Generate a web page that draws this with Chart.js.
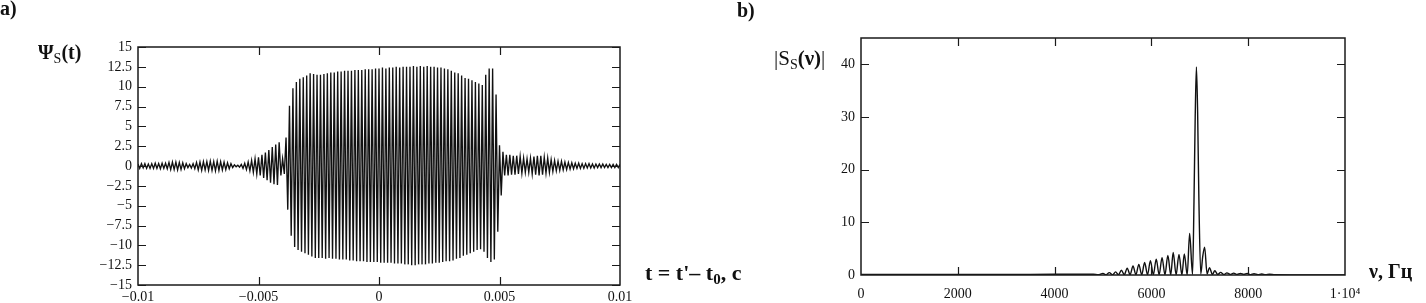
<!DOCTYPE html>
<html>
<head>
<meta charset="utf-8">
<script src="https://cdn.jsdelivr.net/npm/chart.js@4/dist/chart.umd.min.js"></script>
<style>
  html, body { margin: 0; padding: 0; background: #fff; }
  #wrap { position: relative; width: 1426px; height: 303px; overflow: hidden; }
  canvas { position: absolute; top: 0; }
  .lbl {
    position: absolute;
    font-family: "Liberation Serif", "DejaVu Serif", serif;
    font-size: 20px;
    line-height: 1;
    color: #111;
    white-space: nowrap;
  }
  .lbl b { font-weight: bold; }
  .lbl sub { font-size: 14px; vertical-align: -4px; font-weight: normal; }
</style>
</head>
<body>
<div id="wrap">
  <canvas id="signalChart" width="660" height="303" style="left:0"></canvas>
  <canvas id="spectrumChart" width="746" height="303" style="left:680px"></canvas>

  <div class="lbl" style="left:0;top:-2px"><b>a)</b></div>
  <div class="lbl" style="left:38px;top:42px"><b>Ψ</b><sub>S</sub><b>(t)</b></div>
  <div class="lbl" style="left:645px;top:262px;font-size:22px"><b>t = t'– t</b><sub style="font-weight:bold;font-size:15px">0</sub><b>, c</b></div>

  <div class="lbl" style="left:737px;top:0"><b>b)</b></div>
  <div class="lbl" style="left:774px;top:48px;font-size:21px">|S<sub>S</sub><b>(ν)</b>|</div>
  <div class="lbl" style="left:1369px;top:261px;font-size:20px"><b>ν, Гц</b></div>
</div>

<script>
// =========================================================
// DATA
// =========================================================

// a) signal Ψs(t): successive peak / trough values, evenly spaced in t
const T_START = -0.01;
const T_END = 0.01;

// quiet lead-in and the small pre-burst (t ≈ -0.010 … -0.0039)
const psiLead = [
    0.25, -0.3, 0.3, -0.25, 0.3, -0.3, 0.25, -0.3, 0.3, -0.3, 0.35, -0.3, 0.3, -0.35, 0.35, -0.3, 0.35, -0.35,
    0.45, -0.45, 0.5, -0.45, 0.5, -0.5, 0.45, -0.45, 0.4, -0.35, 0.3,
    -0.2, 0.2, -0.25, 0.3, -0.35,
    0.45, -0.5, 0.5, -0.55, 0.55, -0.5, 0.55, -0.55, 0.6, -0.55, 0.55, -0.6, 0.6, -0.55, 0.55, -0.5, 0.5, -0.45, 0.4, -0.35, 0.3,
    -0.2, 0.15, -0.1, 0.1, -0.15, 0.2, -0.3, 0.35,
    -0.45, 0.5, -0.6, 0.7, -0.8, 0.9, -1.0, 1.1, -1.2, 1.4, -1.5, 1.7, -1.8, 2.0, -2.1, 2.4, -2.3, 2.7, -2.4, 3.0, -1.2, 0.9
];

// main burst (t ≈ -0.0039 … 0.0052)
const psiBurst = [
    -1.0, 3.6, -5.5, 7.6, -8.8, 9.8, -10.2, 10.6, -10.6, 11.0, -10.8, 11.2, -11.0, 11.4, -11.2,
    11.7, -11.4, 11.6, -11.6, 11.5, -11.6, 11.5, -11.6, 11.6, -11.7, 11.7, -11.6, 11.8, -11.7, 11.8, -11.7, 11.9, -11.8, 11.9, -11.8,
    12.0, -11.8, 12.0, -11.9, 12.0, -11.9, 12.1, -12.0, 12.1, -12.0, 12.1, -12.0, 12.2, -12.1, 12.2, -12.1, 12.2, -12.1, 12.3, -12.1,
    12.3, -12.2, 12.4, -12.2, 12.3, -12.2, 12.4, -12.2, 12.4, -12.3, 12.5, -12.3, 12.4, -12.3, 12.5, -12.4, 12.5, -12.4, 12.5, -12.5,
    12.6, -12.5, 12.5, -12.4, 12.6, -12.4, 12.5, -12.4, 12.6, -12.3, 12.5, -12.3, 12.5, -12.2, 12.4, -12.2, 12.4, -12.1, 12.3, -12.0,
    12.2, -12.0, 12.0, -11.9, 11.8, -11.7, 11.7, -11.6, 11.4, -11.3, 11.1, -11.2, 11.0, -11.0, 10.8, -10.8, 10.6, -10.6, 10.4, -10.5,
    10.2, -10.8, 11.5, -11.6, 12.3, -12.1, 12.3, -11.8, 9.0, -8.3, 2.6, -3.7, 1.8
];

// decaying tail (t ≈ 0.0052 … 0.010)
const psiTail = [
    -1.2, 1.4, -1.2, 1.4, -1.1, 1.3, -1.1, 1.3, -1.0, 1.2, -0.9, 1.0, -0.8, 0.9, -0.8, 1.0, -1.0, 1.2, -1.1, 1.3,
    -1.2, 1.3, -1.1, 1.1, -0.9, 1.0, -0.8, 0.8, -0.7, 0.7, -0.6, 0.6, -0.55, 0.6, -0.5, 0.5, -0.45, 0.45, -0.4, 0.4,
    -0.35, 0.35, -0.3, 0.35, -0.3, 0.3, -0.3, 0.3, -0.25, 0.3, -0.25, 0.25, -0.25, 0.25, -0.2, 0.25, -0.2, 0.25,
    -0.2, 0.2, -0.2, 0.2, -0.2, 0.2, -0.2, 0.2, -0.2, 0.2
];

const psiTicks = [-15, -12.5, -10, -7.5, -5, -2.5, 0, 2.5, 5, 7.5, 10, 12.5, 15];
const tTicks = [-0.01, -0.005, 0, 0.005, 0.01];

// b) spectrum |Ss(ν)|
const nuHz = [
    0, 1000, 2000, 3000, 4000, 4800, 4900, 5000, 5060, 5130, 5200, 5260, 5320, 5380, 5440,
    5500, 5560, 5620, 5680, 5740, 5800, 5860, 5920, 5980, 6040, 6100, 6160, 6220, 6280, 6340,
    6400, 6450, 6510, 6570, 6630, 6680, 6740, 6790, 6850, 6880, 6905, 6930, 6955, 6980, 7020,
    7060, 7100, 7150, 7200, 7260, 7310, 7370, 7430, 7500, 7560, 7630, 7700, 7770, 7840, 7910,
    7980, 8050, 8120, 8200, 8280, 8360, 8440, 8550, 9000, 10000
];
const specMag = [
    0.1, 0.1, 0.1, 0.1, 0.15, 0.15, 0.05, 0.3, 0.05, 0.45, 0.05, 0.6, 0.05, 0.9, 0.05,
    1.3, 0.05, 1.7, 0.05, 2.0, 0.05, 2.4, 0.05, 2.7, 0.05, 3.0, 0.05, 3.3, 0.05, 3.7,
    0.05, 4.3, 0.05, 3.9, 0.05, 4.0, 0.05, 7.9, 0.1, 14, 30, 39.5, 31, 15, 0.2,
    3.5, 5.3, 0.2, 1.4, 0.1, 0.8, 0.1, 0.5, 0.1, 0.4, 0.1, 0.35, 0.1, 0.3, 0.1,
    0.3, 0.05, 0.25, 0.05, 0.2, 0.05, 0.15, 0.05, 0.02, 0.02
];

const specTicks = [0, 10, 20, 30, 40];
const nuTicks = [0, 2000, 4000, 6000, 8000, 10000];

// =========================================================
// SHARED STYLE
// =========================================================

const SERIF = '"Liberation Serif", "DejaVu Serif", serif';
const TICK_LEN = 8;

function fmtNum(v) {
    return String(v).replace('-', '\u2212');
}

// Mathcad-like frame with inward tick marks on all four sides
const frameTicks = {
    id: 'frameTicks',
    afterDraw(chart, args, opts) {
        const { ctx, chartArea: a, scales } = chart;
        ctx.save();
        ctx.strokeStyle = '#1a1a1a';
        ctx.lineWidth = 1.5;
        ctx.strokeRect(a.left, a.top, a.right - a.left, a.bottom - a.top);
        ctx.lineWidth = 1.2;
        ctx.beginPath();
        opts.xMarks.forEach(v => {
            const px = Math.round(scales.x.getPixelForValue(v)) + 0.5;
            ctx.moveTo(px, a.top);
            ctx.lineTo(px, a.top + TICK_LEN);
            ctx.moveTo(px, a.bottom);
            ctx.lineTo(px, a.bottom - TICK_LEN);
        });
        opts.yMarks.forEach(v => {
            const py = Math.round(scales.y.getPixelForValue(v)) + 0.5;
            ctx.moveTo(a.left, py);
            ctx.lineTo(a.left + TICK_LEN, py);
            ctx.moveTo(a.right, py);
            ctx.lineTo(a.right - TICK_LEN, py);
        });
        ctx.stroke();
        ctx.restore();
    }
};

function axis(min, max, ticks, fit, padding, label) {
    return {
        type: 'linear',
        min: min,
        max: max,
        grid: { display: false, drawTicks: false },
        border: { display: false },
        ticks: {
            color: '#111',
            font: { family: SERIF, size: 14 },
            padding: padding,
            autoSkip: false,
            maxRotation: 0,
            callback: label || fmtNum
        },
        afterBuildTicks: s => { s.ticks = ticks.map(v => ({ value: v })); },
        afterFit: fit
    };
}

// =========================================================
// CHARTS
// =========================================================

document.addEventListener("DOMContentLoaded", init);

function init() {
    renderSignalChart();
    renderSpectrumChart();
}

function renderSignalChart() {
    const psiValues = psiLead.concat(psiBurst, psiTail);
    const step = (T_END - T_START) / (psiValues.length - 1);
    const points = psiValues.map((v, i) => ({ x: T_START + i * step, y: v }));

    new Chart(document.getElementById("signalChart"), {
        type: 'line',
        data: {
            datasets: [{
                data: points,
                borderColor: '#111',
                borderWidth: 1.35,
                pointRadius: 0,
                tension: 0,
                fill: false
            }]
        },
        options: {
            responsive: false,
            animation: false,
            devicePixelRatio: 1,
            layout: { padding: { top: 47, right: 40, bottom: 0, left: 0 } },
            scales: {
                x: axis(-0.01, 0.01, tTicks, s => { s.height = 18; }, 4),
                y: axis(-15, 15, psiTicks, s => { s.width = 138; }, 6)
            },
            plugins: {
                legend: { display: false },
                tooltip: { enabled: false },
                frameTicks: { xMarks: [-0.005, 0, 0.005], yMarks: psiTicks }
            }
        },
        plugins: [frameTicks]
    });
}

function renderSpectrumChart() {
    const points = nuHz.map((nu, i) => ({ x: nu, y: specMag[i] }));

    new Chart(document.getElementById("spectrumChart"), {
        type: 'line',
        data: {
            datasets: [{
                data: points,
                borderColor: '#111',
                borderWidth: 1.4,
                pointRadius: 0,
                cubicInterpolationMode: 'monotone',
                fill: false
            }]
        },
        options: {
            responsive: false,
            animation: false,
            devicePixelRatio: 1,
            layout: { padding: { top: 38, right: 81, bottom: 0, left: 0 } },
            scales: {
                x: axis(0, 10000, nuTicks, s => { s.height = 28; }, 11,
                    v => (v === 10000 ? '1\u00B710\u2074' : String(v))),
                y: axis(0, 45, specTicks, s => { s.width = 181; }, 6)
            },
            plugins: {
                legend: { display: false },
                tooltip: { enabled: false },
                frameTicks: { xMarks: [2000, 4000, 6000, 8000], yMarks: [10, 20, 30, 40] }
            }
        },
        plugins: [frameTicks]
    });
}
</script>
</body>
</html>
